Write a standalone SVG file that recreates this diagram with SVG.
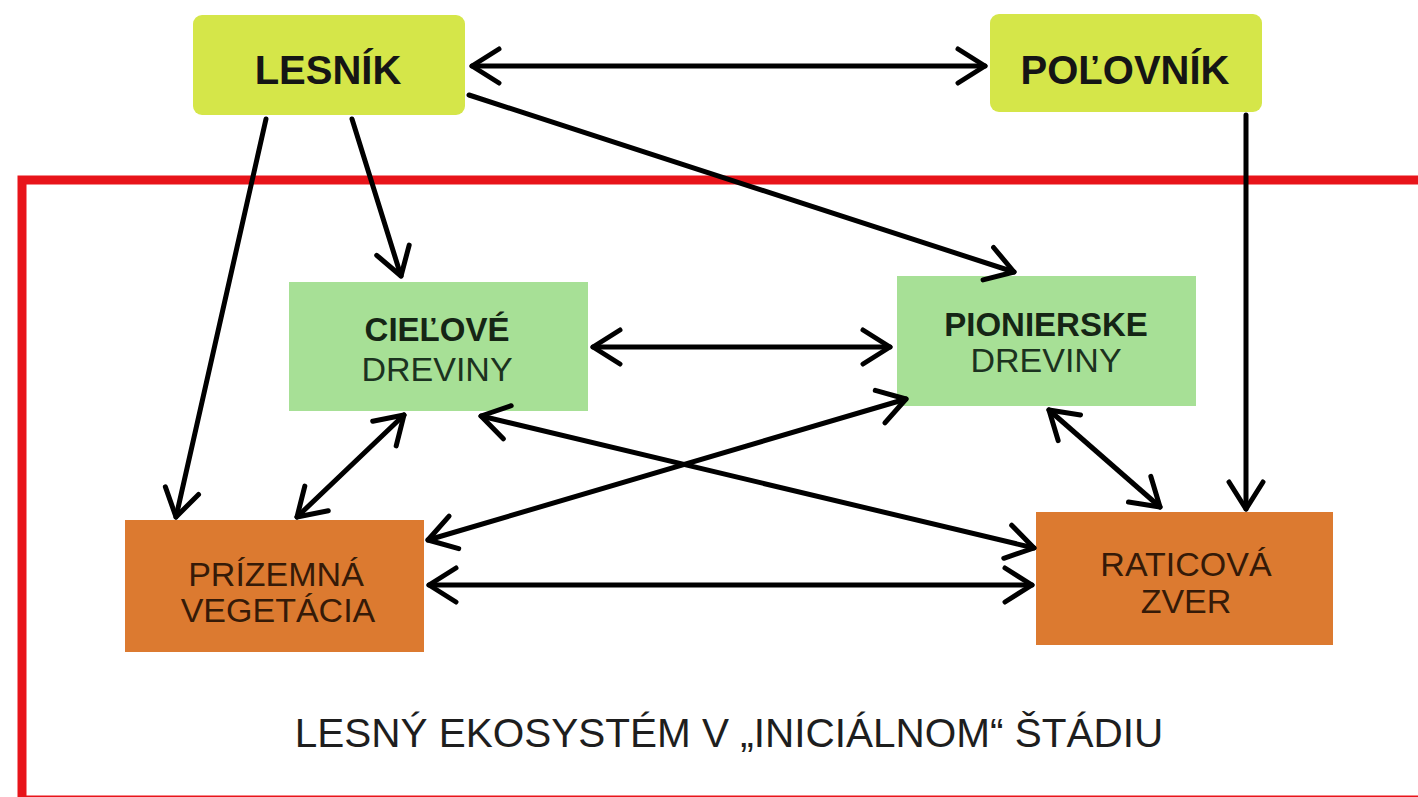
<svg xmlns="http://www.w3.org/2000/svg" width="1418" height="797" viewBox="0 0 1418 797">
<defs>
<marker id="ah" viewBox="0 0 36 40" refX="32" refY="20" markerWidth="36" markerHeight="40" markerUnits="userSpaceOnUse" orient="auto-start-reverse">
<path d="M5,3 L32,20 L5,37" fill="none" stroke="#000" stroke-width="5" stroke-linecap="round" stroke-linejoin="round"/>
</marker>
</defs>
<style>
text{font-family:"Liberation Sans",Arial,sans-serif;text-anchor:middle}
.top{fill:#d5e649}
.green{fill:#a7e096}
.orange{fill:#dc7a30}
.big{font-size:40px;font-weight:bold;fill:#151515}
.gb{font-size:33px;font-weight:bold;fill:#152515}
.gr{font-size:34px;fill:#1c3220}
.or{font-size:34px;fill:#351a08}
.c{fill:none;stroke:#000;stroke-width:5;stroke-linecap:round}
.one{marker-end:url(#ah)}
.two{marker-start:url(#ah);marker-end:url(#ah)}
</style>
<rect width="1418" height="797" fill="#fff"/>
<rect id="frame" x="22" y="180" width="1420" height="620" fill="none" stroke="#e8141a" stroke-width="9"/>
<g id="lesnik">
<rect class="top" x="193" y="15" width="272" height="100" rx="9"/>
<text class="big" x="328" y="84">LESNÍK</text>
</g>
<g id="polovnik">
<rect class="top" x="990" y="14" width="272" height="98" rx="9"/>
<text class="big" x="1125" y="84">POĽOVNÍK</text>
</g>
<g id="cielove">
<rect class="green" x="289" y="282" width="299" height="129"/>
<text class="gb" x="437" y="341">CIEĽOVÉ</text>
<text class="gr" x="437" y="381">DREVINY</text>
</g>
<g id="pionierske">
<rect class="green" x="897" y="276" width="299" height="130"/>
<text class="gb" x="1046" y="336">PIONIERSKE</text>
<text class="gr" x="1046" y="372">DREVINY</text>
</g>
<g id="prizemna">
<rect class="orange" x="125" y="520" width="299" height="132"/>
<text class="or" x="276" y="586">PRÍZEMNÁ</text>
<text class="or" x="278" y="622">VEGETÁCIA</text>
</g>
<g id="raticova">
<rect class="orange" x="1036" y="512" width="297" height="133"/>
<text class="or" x="1186" y="576">RATICOVÁ</text>
<text class="or" x="1186" y="613">ZVER</text>
</g>
<g id="connectors">
<line class="c two" x1="472" y1="66" x2="985" y2="66"/>
<line class="c one" x1="266" y1="119" x2="176" y2="517"/>
<line class="c one" x1="352" y1="119" x2="401" y2="276"/>
<line class="c one" x1="469" y1="95" x2="1014" y2="272"/>
<line class="c one" x1="1246" y1="115" x2="1246" y2="509"/>
<line class="c two" x1="593" y1="347" x2="890" y2="347"/>
<line class="c two" x1="404" y1="415" x2="297" y2="517"/>
<line class="c two" x1="481" y1="416" x2="1034" y2="548"/>
<line class="c two" x1="428" y1="540" x2="906" y2="399"/>
<line class="c two" x1="1049" y1="410" x2="1160" y2="507"/>
<line class="c two" x1="429" y1="585" x2="1032" y2="585"/>
</g>
<text x="729" y="747" style="font-size:40.5px;fill:#1e1e1e">LESNÝ EKOSYSTÉM V „INICIÁLNOM“ ŠTÁDIU</text>
</svg>
